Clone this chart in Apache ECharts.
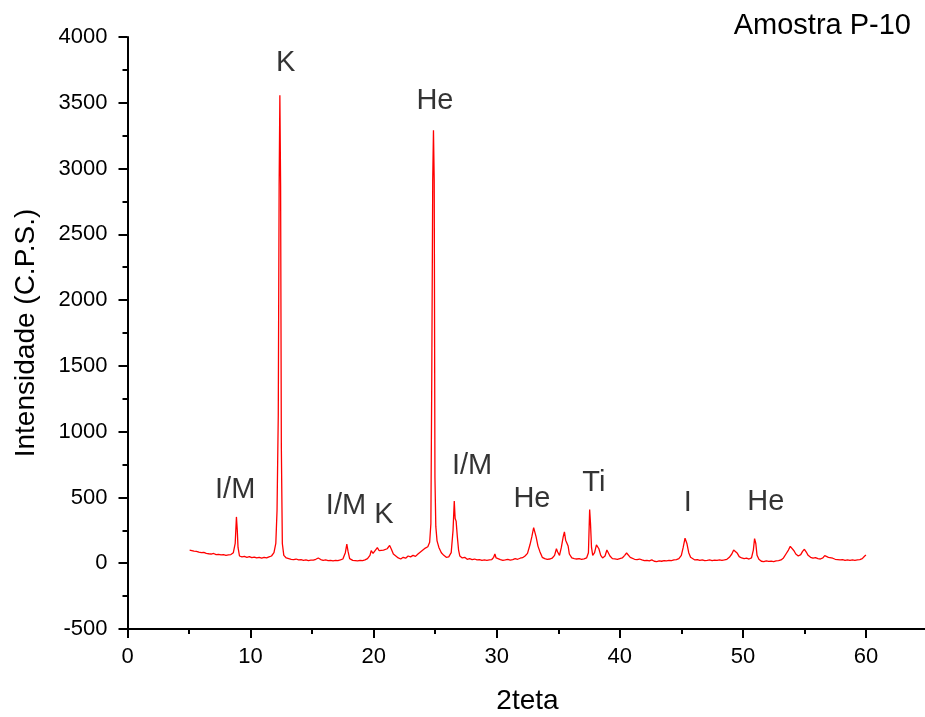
<!DOCTYPE html>
<html>
<head>
<meta charset="utf-8">
<script src="https://cdn.jsdelivr.net/npm/echarts@6/dist/echarts.min.js"></script>
<style>
html,body{margin:0;padding:0;background:#fff;}
#chart{width:925px;height:717px;}
</style>
</head>
<body>
<div id="chart"></div>
<script>
// 2theta positions
var twoTheta = [
5.05,5.2,5.4,5.6,5.8,6.0,6.2,6.4,6.6,6.8,7.0,7.2,7.4,7.6,7.8,8.0,8.2,8.4,8.6,8.75,8.85,8.92,8.98,9.1,9.3,9.5,9.7,9.9,
10.1,10.3,10.5,10.7,10.9,11.1,11.3,11.5,11.7,11.9,12.05,12.15,12.25,12.32,12.38,12.44,12.5,12.58,12.7,12.9,
13.1,13.3,13.5,13.7,13.9,14.1,14.3,14.5,14.7,14.9,15.1,15.3,15.5,15.7,15.9,16.1,16.3,16.5,16.7,16.9,
17.1,17.3,17.5,17.7,17.82,17.92,18.05,18.3,18.5,18.7,18.9,19.1,19.3,19.5,19.7,19.8,19.95,
20.1,20.3,20.45,20.6,20.8,20.95,21.1,21.3,21.45,21.6,21.8,22.0,22.2,22.4,22.6,22.8,23.0,23.2,23.4,23.6,23.8,
24.0,24.2,24.4,24.55,24.65,24.72,24.8,24.86,24.92,24.98,25.05,25.15,25.3,25.5,25.7,25.9,
26.1,26.3,26.45,26.55,26.62,26.7,26.8,26.9,27.0,27.2,27.4,27.6,27.8,28.0,28.2,28.4,28.6,28.8,
29.0,29.2,29.4,29.6,29.75,29.85,29.95,30.1,30.3,30.5,30.7,30.9,31.1,31.3,31.5,31.7,31.9,
32.1,32.3,32.5,32.7,32.85,33.0,33.1,33.2,33.35,33.5,33.7,33.9,34.1,34.3,34.5,34.7,34.85,34.95,
35.1,35.25,35.4,35.5,35.6,35.7,35.8,35.9,36.1,36.3,36.5,36.7,36.9,37.1,37.3,37.45,37.55,37.62,37.7,37.8,37.95,
38.1,38.2,38.3,38.45,38.6,38.8,38.95,39.05,39.2,39.4,39.6,39.8,40.0,40.2,40.4,40.55,40.7,40.85,
41.0,41.2,41.4,41.6,41.8,42.0,42.2,42.4,42.6,42.8,43.0,43.2,43.4,43.6,43.8,44.0,44.2,44.4,44.6,44.8,
45.0,45.15,45.3,45.45,45.6,45.75,45.9,46.1,46.3,46.5,46.7,46.9,47.1,47.3,47.5,47.7,47.9,48.1,48.3,48.5,48.7,48.9,
49.1,49.25,49.4,49.55,49.7,49.9,50.1,50.3,50.5,50.7,50.85,50.95,51.05,51.15,51.3,51.5,51.7,51.9,
52.1,52.3,52.5,52.7,52.9,53.1,53.3,53.5,53.7,53.85,54.0,54.15,54.3,54.5,54.7,54.85,55.0,55.15,55.3,55.5,55.7,55.9,
56.1,56.3,56.5,56.65,56.8,56.95,57.1,57.3,57.5,57.7,57.9,58.1,58.3,58.5,58.7,58.9,59.1,59.3,59.5,59.7,59.9,60.0
];
// intensity (C.P.S.)
var intensity = [
100,96,92,90,84,80,83,75,72,70,74,66,68,63,65,60,64,66,80,150,352,250,120,55,48,52,45,50,
42,47,40,44,38,45,40,48,55,80,150,400,1125,2870,3557,2870,880,150,60,40,
35,30,28,32,25,27,22,25,20,23,24,30,40,28,22,25,20,22,18,22,
20,25,32,80,145,90,35,22,20,18,22,20,25,35,60,95,75,
85,118,95,80,100,88,110,135,105,70,55,40,32,45,38,55,48,60,52,70,85,
100,115,125,160,300,1390,2910,3291,2910,650,280,170,120,80,60,45,
48,80,250,473,340,320,200,100,55,40,45,30,35,28,32,25,28,22,
25,22,25,28,45,70,40,25,28,22,25,30,24,28,35,30,38,
42,55,75,140,200,270,255,200,130,90,45,35,30,32,38,60,110,85,
60,120,200,238,175,165,130,70,40,35,32,35,30,33,40,80,408,300,120,60,80,
140,152,110,60,40,55,100,90,55,35,33,30,35,40,60,78,65,45,
35,30,28,32,25,20,22,18,25,15,12,18,15,20,18,22,20,25,28,35,
60,120,190,150,80,45,30,25,28,22,25,20,22,25,20,24,22,26,22,25,30,45,
70,100,108,75,50,40,35,38,32,40,100,187,150,60,30,15,12,18,
14,16,12,18,20,25,40,70,100,128,120,95,70,55,65,90,106,85,60,45,38,42,
35,32,40,58,60,45,35,38,30,28,25,28,22,25,22,25,22,25,28,35,55,62
];
// peak annotations
var annText = ["I/M","K","I/M","K","He","I/M","He","Ti","I","He"];
var annX = [8.75,12.85,17.75,20.83,24.98,28.0,32.86,37.89,45.53,51.87];
var annY = [555,3800,433,370,3511,737,486,608,456,464];
// axis ticks
var xMin = 0, xMax = 65, xStep = 10;
var xMajorTicks = [0,10,20,30,40,50,60];
var xMinorTicks = [5,15,25,35,45,55];
var yMin = -500, yMax = 4000, yStep = 500;

var lineData = twoTheta.map(function(x,i){return [x,intensity[i]];});
var annData = annText.map(function(t,i){return {name:t,value:[annX[i],annY[i]]};});

var font = '"Liberation Sans", Arial, sans-serif';
var chart = echarts.init(document.getElementById('chart'));
chart.setOption({
  animation:false,
  backgroundColor:'#ffffff',
  grid:{left:127.5, top:37, width:800, height:592, containLabel:false, outerBoundsMode:'none'},
  graphic:[{type:'text', right:14, top:11, style:{text:'Amostra P-10', font:'29px '+font, fill:'#000'}}],
  xAxis:[{
    type:'value', min:xMin, max:xMax, interval:xStep, position:'bottom',
    name:'2teta', nameLocation:'middle', nameGap:58,
    nameTextStyle:{fontFamily:font, fontSize:28, color:'#000'},
    splitLine:{show:false},
    axisLine:{onZero:false, lineStyle:{color:'#000', width:2}},
    axisTick:{inside:false, length:9, customValues:xMajorTicks, lineStyle:{color:'#000', width:2}},
    axisLabel:{margin:17, fontFamily:font, fontSize:22, color:'#000', customValues:xMajorTicks,
      formatter:function(v){return String(v);}}
  },{
    type:'value', min:xMin, max:xMax, position:'bottom', offset:0,
    splitLine:{show:false},
    axisLine:{show:false, onZero:false},
    axisTick:{show:true, inside:false, length:5, customValues:xMinorTicks, lineStyle:{color:'#000', width:2}},
    axisLabel:{show:false}
  }],
  yAxis:{
    type:'value', min:yMin, max:yMax, interval:yStep,
    name:'Intensidade (C.P.S.)', nameLocation:'middle', nameGap:87,
    nameTextStyle:{fontFamily:font, fontSize:28, color:'#000'},
    splitLine:{show:false},
    axisLine:{onZero:false, lineStyle:{color:'#000', width:2}},
    axisTick:{inside:false, length:9, lineStyle:{color:'#000', width:2}},
    minorTick:{show:true, splitNumber:2, length:5, lineStyle:{color:'#000', width:2}},
    axisLabel:{margin:20, fontFamily:font, fontSize:22, color:'#000',
      formatter:function(v){return String(v);}}
  },
  series:[
    {type:'line', data:lineData, symbol:'none', lineStyle:{color:'#ff0000', width:1.3}, itemStyle:{color:'#ff0000'}},
    {type:'scatter', data:annData, symbolSize:0, silent:true,
      label:{show:true, position:'inside', formatter:'{b}', fontFamily:font, fontSize:29, color:'#000', textBorderWidth:0}}
  ]
});
</script>
</body>
</html>
